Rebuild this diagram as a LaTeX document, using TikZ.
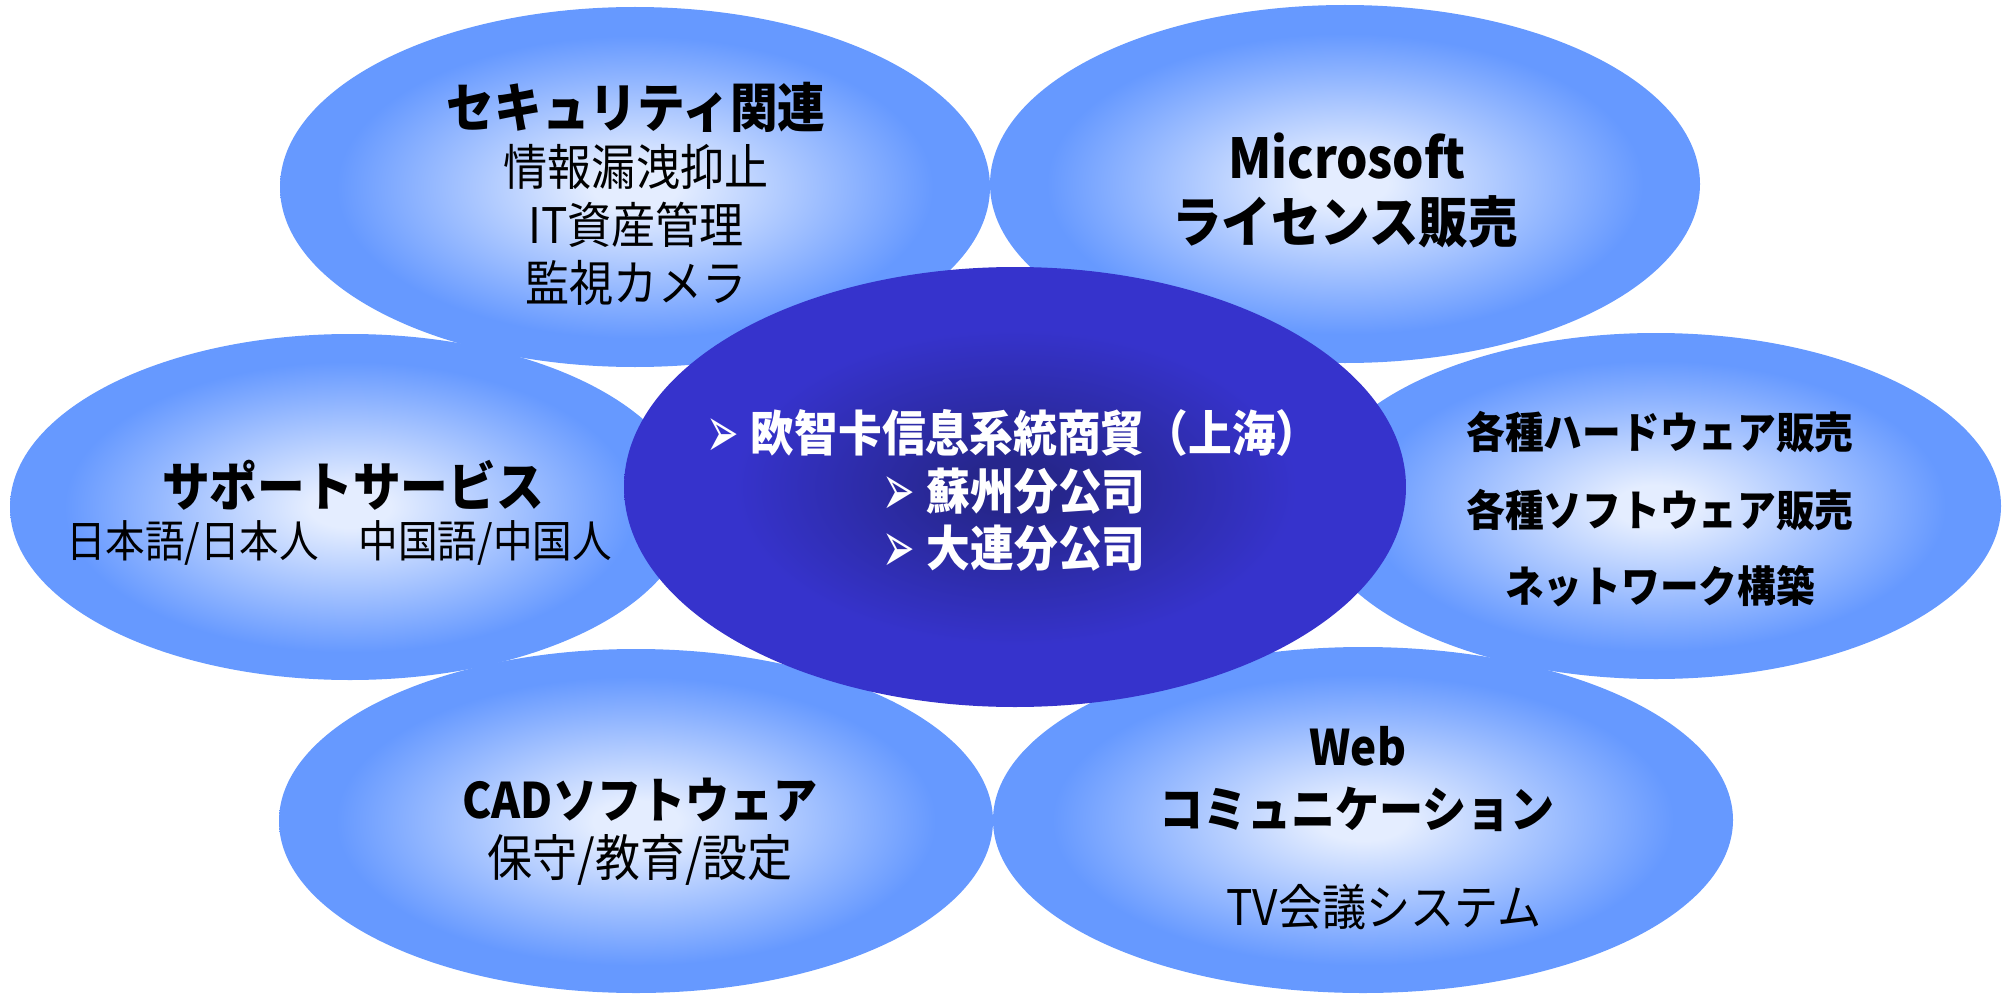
\documentclass[tikz,border=0pt]{standalone}
\usepackage{fontspec}
\newfontfamily\jpfont[FakeStretch=0.9]{Noto Sans CJK JP}
\newfontfamily\symfont{DejaVu Sans}
\usetikzlibrary{positioning}
\definecolor{bubin}{HTML}{E4EDFF}
\definecolor{bubout}{HTML}{6699FF}
\definecolor{hubin}{HTML}{26268C}
\definecolor{hubout}{HTML}{3633CC}
\pgfdeclareradialshading{bubshade}{\pgfpoint{0bp}{0bp}}{color(0bp)=(bubin); color(3bp)=(bubin); color(21bp)=(bubout); color(50bp)=(bubout)}
\pgfdeclareradialshading{hubshade}{\pgfpoint{0bp}{0bp}}{color(0bp)=(hubin); color(3bp)=(hubin); color(18bp)=(hubout); color(50bp)=(hubout)}
\newcommand{\bul}{\raisebox{-3pt}{\scalebox{0.8}[1.5]{\symfont ➢}}\kern6pt}
\tikzset{
bubble/.style={shading=bubshade},
hub/.style={shading=hubshade},
jp/.style={font=\jpfont\fontsize{#1}{#1}\selectfont},
jpb/.style={font=\jpfont\bfseries\fontsize{#1}{#1}\selectfont},
hubtext/.style={jpb=24.3, text=white},
}

\begin{document}
\begin{tikzpicture}[x=0.5pt,y=-0.5pt]
            \useasboundingbox (0,0) rectangle (2007,995);
            % outer ellipses
            \shade[bubble] (635,187) ellipse [x radius=355, y radius=180];
            \shade[bubble] (1345,184) ellipse [x radius=355, y radius=179];
            \shade[bubble] (350,507) ellipse [x radius=340, y radius=173];
            \shade[bubble] (1656,506) ellipse [x radius=345, y radius=173];
            \shade[bubble] (636,821) ellipse [x radius=357, y radius=172];
            \shade[bubble] (1363,820) ellipse [x radius=370, y radius=173];
            % centre ellipse
            \shade[hub] (1015,487) ellipse [x radius=391, y radius=220];
            % top left
            \node[jpb=26.5] (sec) at (636,107) {セキュリティ関連};
            \node[jp=24.5] (sec1) at (636,167) {情報漏洩抑止};
            \node[jp=24.5] (sec2) at (636,225) {IT資産管理};
            \node[jp=24.5] (sec3) at (636,283) {監視カメラ};
            % top right
            \node[jpb=27.5] (ms) at (1347,156) {Microsoft};
            \node[jpb=27.5] (ms1) at (1345,222) {ライセンス販売};
            % left
            \node[jpb=26.5] (sup) at (353,485) {サポートサービス};
            \node[jp=22] (sup1) at (339,543) {日本語/日本人　中国語/中国人};
            % right
            \node[jpb=21.5] (hw) at (1660,432) {各種ハードウェア販売};
            \node[jpb=21.5] (sw) at (1660,510) {各種ソフトウェア販売};
            \node[jpb=21.5] (net) at (1660,586) {ネットワーク構築};
            % bottom left
            \node[jpb=24.5] (cad) at (640,800) {CADソフトウェア};
            \node[jp=25] (cad1) at (640,860) {保守/教育/設定};
            % bottom right
            \node[jpb=24.5] (web) at (1358,746) {Web};
            \node[jpb=24.5] (web1) at (1357,809) {コミュニケーション};
            \node[jp=24.5] (web2) at (1384,907) {TV会議システム};
            % centre
            \node[hubtext] (hq) at (1013,433) {\bul 欧智卡信息系統商貿（上海）};
            \node[hubtext] (br1) at (1014,492) {\bul 蘇州分公司};
            \node[hubtext] (br2) at (1014,549) {\bul 大連分公司};
        \end{tikzpicture}
\end{document}
